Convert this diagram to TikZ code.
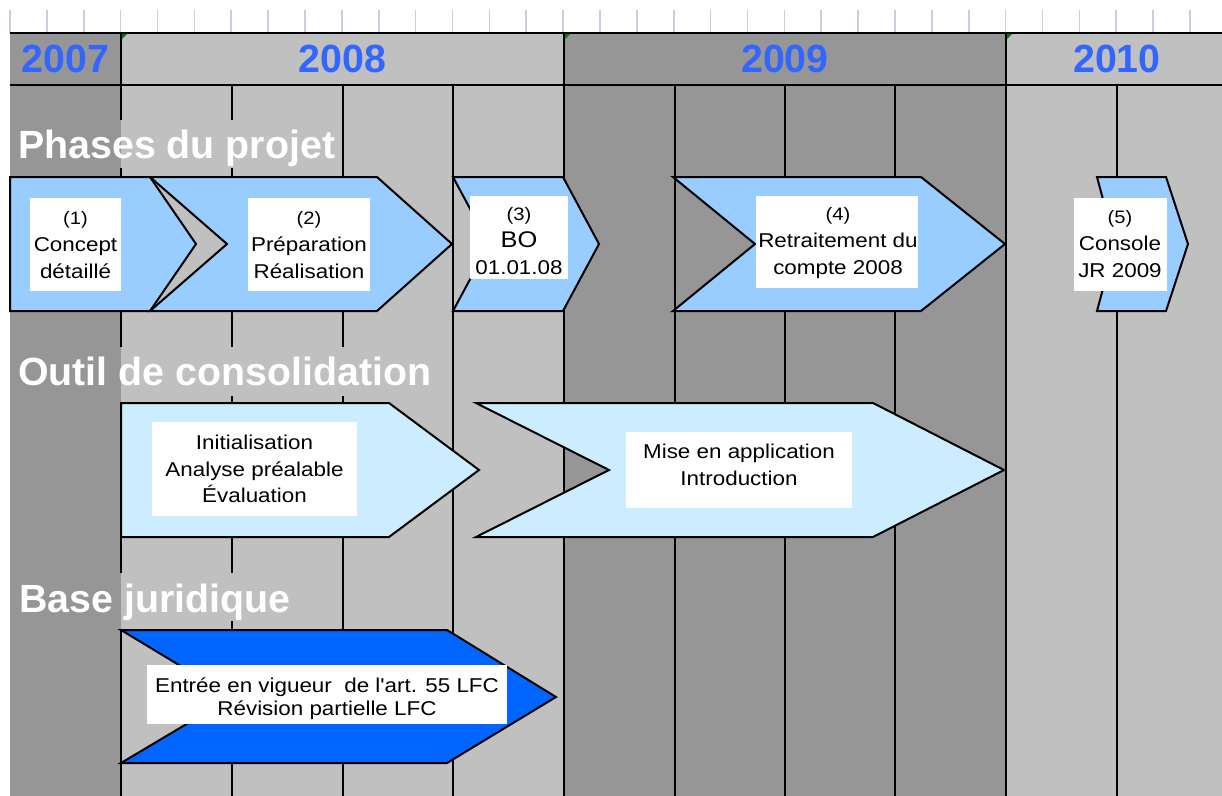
\documentclass[tikz,border=0pt]{standalone}
\usepackage{fontspec}
\setmainfont{Liberation Sans}
\newfontfamily\boxfont[FakeStretch=1.12]{Liberation Sans}
\definecolor{darkcol}{RGB}{150,150,150}
\definecolor{lightcol}{RGB}{192,192,192}
\definecolor{yearblue}{RGB}{51,102,255}
\definecolor{phaseblue}{RGB}{153,204,255}
\definecolor{toolblue}{RGB}{204,236,255}
\definecolor{lawblue}{RGB}{0,102,255}
\definecolor{tickcol}{RGB}{200,206,224}
\definecolor{markgreen}{RGB}{0,128,0}
\newcommand{\phnum}[1]{{\fontsize{13.5}{20}\selectfont #1}}
\tikzset{
  gridline/.style={black, line width=1.5pt},
  tickline/.style={tickcol, line width=1.2pt},
  phasechev/.style={fill=phaseblue, draw=black, line width=1.5pt, line join=miter},
  toolchev/.style={fill=toolblue, draw=black, line width=1.5pt, line join=miter},
  lawchev/.style={fill=lawblue, draw=black, line width=1.5pt, line join=miter},
  wbox/.style={fill=white},
  txt/.style={font=\boxfont\fontsize{15}{20}\selectfont, align=center, inner sep=0pt, text=black},
  title/.style={font=\bfseries\fontsize{29.5}{35}\selectfont, text=white, inner sep=0pt, anchor=base west},
  year/.style={font=\bfseries\fontsize{29.5}{35}\selectfont, text=yearblue, inner sep=0pt},
}
\begin{document}
\begin{tikzpicture}[x=0.75pt, y=-0.75pt]
\useasboundingbox (0,0) rectangle (1222,796);
\fill[white] (0,0) rectangle (1222,796);
% column backgrounds
\fill[darkcol] (10,33) rectangle (121,796);
\fill[lightcol] (121,33) rectangle (564,796);
\fill[darkcol] (564,33) rectangle (1006,796);
\fill[lightcol] (1006,33) rectangle (1222,796);
% ruler ticks
\foreach \k in {0,...,32} \draw[tickline] ({10+36.875*\k},10) -- ({10+36.875*\k},33);
% grid
\foreach \x in {121,232,343,453,564,675,785,895,1006,1117} \draw[gridline] (\x,85) -- (\x,796);
\draw[gridline] (10,33) -- (1222,33);
\draw[gridline] (10,85) -- (1222,85);
\foreach \x in {121,564,1006} \draw[gridline] (\x,33) -- (\x,85);
% green markers
\foreach \x in {122,565,1007} \fill[markgreen] (\x,34) -- (\x+5,34) -- (\x,39) -- cycle;
% years
\node[year] (y2007) at (65.5,59) {2007};
\node[year] (y2008) at (342.5,59) {2008};
\node[year] (y2009) at (785,59) {2009};
\node[year] (y2010) at (1117,59) {2010};
% title bands (grid hidden)
\fill[darkcol] (10,120) rectangle (121,168);
\fill[lightcol] (121,120) rectangle (338,168);
\fill[darkcol] (10,347) rectangle (121,403);
\fill[lightcol] (121,347) rectangle (440,396);
\fill[lightcol] (121,396) rectangle (124,403);
\fill[darkcol] (10,573) rectangle (121,630);
\fill[lightcol] (121,573) rectangle (293,621);
\fill[lightcol] (121,621) rectangle (124,630);
% titles
\node[title] (tphases) at (18,158) {Phases du projet};
\node[title] (toutil) at (18,385) {Outil de consolidation};
\node[title] (tbase) at (19,612) {Base juridique};
% phase chevrons
\draw[phasechev] (10,177) -- (150,177) -- (196,244) -- (150,311) -- (10,311) -- cycle;
\draw[phasechev] (150,177) -- (377,177) -- (452,244) -- (377,311) -- (150,311) -- (227,244) -- cycle;
\draw[phasechev] (453,177) -- (563,177) -- (599,244) -- (563,311) -- (453,311) -- (489,244) -- cycle;
\draw[phasechev] (673,177) -- (921,177) -- (1005,244) -- (921,311) -- (673,311) -- (755,244) -- cycle;
\draw[phasechev] (1097,177) -- (1166,177) -- (1188,244) -- (1166,311) -- (1097,311) -- (1115,244) -- cycle;
% tool chevrons
\draw[toolchev] (121,403) -- (389,403) -- (479,470) -- (389,537) -- (121,537) -- cycle;
\draw[toolchev] (476,403) -- (873,403) -- (1004,470) -- (873,537) -- (476,537) -- (609,470) -- cycle;
% law chevron
\draw[lawchev] (121,630) -- (447,630) -- (556,697) -- (447,763) -- (121,763) -- (232,697) -- cycle;
% white boxes
\fill[wbox] (30,198) rectangle (121,291);
\fill[wbox] (248,198) rectangle (370,291);
\fill[wbox] (470,196) rectangle (568,279);
\fill[wbox] (756,196) rectangle (918,288);
\fill[wbox] (1074,198) rectangle (1167,291);
\fill[wbox] (152,422) rectangle (357,516);
\fill[wbox] (626,432) rectangle (852,508);
\fill[wbox] (147,665) rectangle (507,724);
% texts
\node[txt] (t1) at (75.5,245) {\phnum{(1)}\\Concept\\détaillé};
\node[txt] (t2) at (309,245) {\phnum{(2)}\\Préparation\\Réalisation};
\node[txt] (t3) at (519,241) {\phnum{(3)}\\{\fontsize{17}{20}\selectfont BO}\\01.01.08};
\begin{scope}
\clip (756,196) rectangle (918,288);
\node[txt] (t4) at (838,243) {\phnum{(4)}\\Retraitement du\\compte 2008};
\end{scope}
\node[txt] (t5) at (1120,244) {\phnum{(5)}\\Console\\JR 2009};
\node[txt] (ta) at (254.5,469) {Initialisation\\Analyse préalable\\Évaluation};
\node[txt] (tb) at (739,465) {Mise en application\\Introduction};
\node[txt, font=\boxfont\fontsize{15}{17.5}\selectfont] (tc) at (327,698.5) {Entrée en vigueur\ \ de l'art. 55 LFC\\Révision partielle LFC};
\end{tikzpicture}
\end{document}
